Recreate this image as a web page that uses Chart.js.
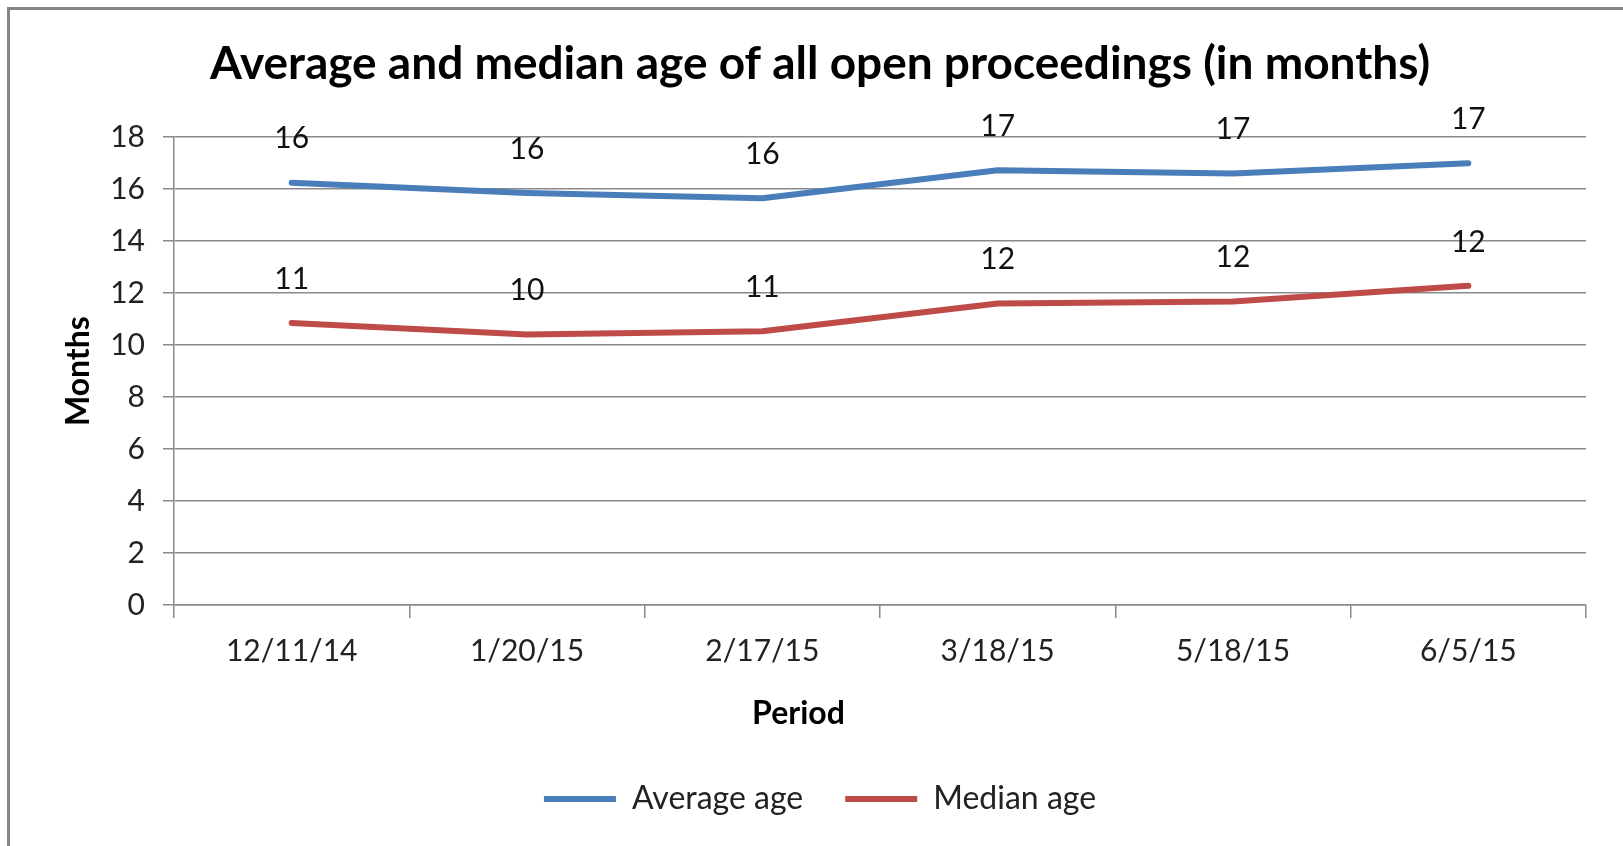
<!DOCTYPE html>
<html>
<head>
<meta charset="utf-8">
<script src="https://cdn.jsdelivr.net/npm/chart.js@4.4.0/dist/chart.umd.min.js"></script>
<style>
    html, body { margin: 0; padding: 0; background: #fff; }
    #wrap { position: relative; width: 1623px; height: 846px; overflow: hidden; }
    #frame {
        position: absolute; left: 7px; top: 7px; right: -10px; bottom: -10px;
        border-top: 3px solid #858585; border-left: 3px solid #858585;
    }
    canvas { position: absolute; left: 0; top: 0; }
</style>
</head>
<body>
<div id="wrap">
    <div id="frame"></div>
    <canvas id="ageChart" width="1623" height="846"></canvas>
</div>
<script>
// Chart data
const periods = ['12/11/14', '1/20/15', '2/17/15', '3/18/15', '5/18/15', '6/5/15'];
const averageAge = [16.25, 15.85, 15.65, 16.73, 16.6, 17.0];
const medianAge = [10.85, 10.41, 10.53, 11.6, 11.68, 12.28];
const yTicks = [0, 2, 4, 6, 8, 10, 12, 14, 16, 18];

const FONT = "Lato, 'Open Sans', sans-serif";
const GRID = '#8a8a8a';

// Value labels drawn above each point (rounded, like Excel)
// plus the "Period" axis title, which Excel centres on the whole chart rather than the plot
const chartText = {
    id: 'chartText',
    afterDatasetsDraw(chart) {
        const ctx = chart.ctx;
        ctx.save();
        ctx.font = '30px ' + FONT;
        ctx.fillStyle = '#111';
        ctx.textAlign = 'center';
        ctx.textBaseline = 'middle';
        chart.data.datasets.forEach((ds, i) => {
            chart.getDatasetMeta(i).data.forEach((pt, j) => {
                ctx.fillText(Math.round(ds.data[j]), pt.x, pt.y - 44);
            });
        });

        const xs = chart.scales.x;
        ctx.font = 'bold 32px ' + FONT;
        ctx.fillStyle = '#000';
        ctx.fillText('Period', chart.width / 2 - 13, xs.bottom - 27);
        ctx.restore();
    }
};

new Chart(document.getElementById('ageChart'), {
    type: 'line',
    data: {
        labels: periods,
        datasets: [
            {
                label: 'Average age',
                data: averageAge,
                borderColor: '#4a7ebb',
                backgroundColor: '#4a7ebb',
                borderWidth: 6,
                borderCapStyle: 'round',
                borderJoinStyle: 'round',
                pointRadius: 0,
                tension: 0
            },
            {
                label: 'Median age',
                data: medianAge,
                borderColor: '#be4b48',
                backgroundColor: '#be4b48',
                borderWidth: 6,
                borderCapStyle: 'round',
                borderJoinStyle: 'round',
                pointRadius: 0,
                tension: 0
            }
        ]
    },
    options: {
        responsive: false,
        animation: false,
        layout: { padding: { left: 17, right: 0, top: 0, bottom: 21 } },
        scales: {
            y: {
                min: 0,
                max: 18,
                afterBuildTicks: (scale) => { scale.ticks = yTicks.map(v => ({ value: v })); },
                afterFit: (scale) => { scale.width = 157; },
                ticks: { color: '#222', font: { family: FONT, size: 30 }, padding: 18 },
                grid: { color: GRID, lineWidth: 1.5, tickLength: 11 },
                border: { color: GRID, width: 1.5 },
                title: {
                    display: true, text: 'Months', color: '#000',
                    font: { family: FONT, size: 32, weight: 'bold' },
                    padding: { top: 42 }
                }
            },
            // empty spacer on the right so the plot ends where the reference's does
            yRight: {
                position: 'right',
                afterFit: (scale) => { scale.width = 37; },
                ticks: { display: false },
                grid: { display: false },
                border: { display: false }
            },
            x: {
                offset: true,
                afterFit: (scale) => { scale.height = 136; },
                ticks: { color: '#222', font: { family: FONT, size: 30 }, padding: 15, maxRotation: 0 },
                grid: { offset: true, drawOnChartArea: false, color: GRID, lineWidth: 1.5, tickLength: 13 },
                border: { color: GRID, width: 1.5 }
            }
        },
        plugins: {
            title: {
                display: true,
                text: 'Average and median age of all open proceedings (in months)',
                color: '#000',
                font: { family: FONT, size: 46, weight: 'bold' },
                padding: { top: 37, bottom: 45 }
            },
            legend: {
                position: 'bottom',
                labels: {
                    color: '#222',
                    font: { family: FONT, size: 32 },
                    usePointStyle: true,
                    pointStyle: 'line',
                    pointStyleWidth: 72,
                    padding: 42
                }
            },
            tooltip: { enabled: false }
        }
    },
    plugins: [chartText]
});
</script>
</body>
</html>
